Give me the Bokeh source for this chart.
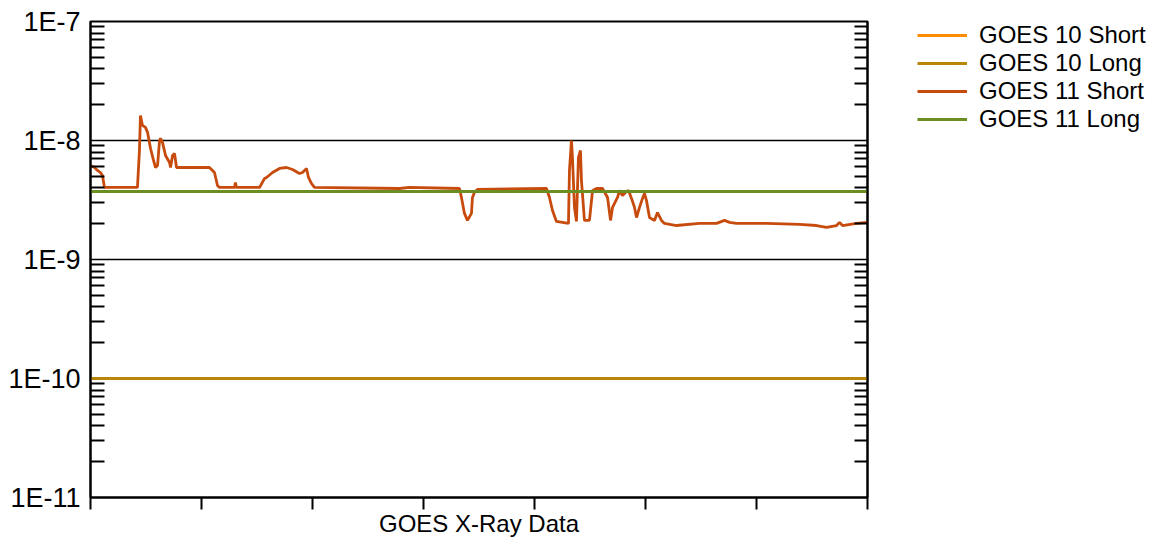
from bokeh.plotting import figure
from bokeh.layouts import row
from bokeh.models import (FixedTicker, LogAxis, Legend, LegendItem,
                          CustomJSTickFormatter, Range1d)
from bokeh.embed import file_html
from bokeh.resources import INLINE

# ---------------- data ----------------
series_names = ["GOES 10 Short", "GOES 10 Long", "GOES 11 Short", "GOES 11 Long"]
series_colors = ["#FF8C00", "#B8860B", "#C84B0E", "#6B8E23"]

g10_time = [0.0, 7.0]
g10_short = [1.0e-10, 1.0e-10]
g10_long = [1.0e-10, 1.0e-10]

g11_long_time = [0.0, 7.0]
g11_long = [3.72e-9, 3.72e-9]

g11_short_time = [
    0.000, 0.036, 0.063, 0.090, 0.108, 0.126, 0.423, 0.441, 0.450, 0.468,
    0.495, 0.514, 0.541, 0.568, 0.586, 0.604, 0.622, 0.631, 0.649, 0.676,
    0.712, 0.721, 0.739, 0.757, 0.775, 0.802, 1.072, 1.117, 1.144, 1.162,
    1.297, 1.306, 1.315, 1.523, 1.568, 1.586, 1.640, 1.703, 1.766, 1.820,
    1.883, 1.910, 1.946, 1.964, 1.991, 2.018, 2.784, 2.874, 3.324, 3.342,
    3.369, 3.396, 3.432, 3.441, 3.459, 3.486, 4.108, 4.135, 4.162, 4.198,
    4.306, 4.315, 4.333, 4.342, 4.360, 4.378, 4.396, 4.414, 4.423, 4.450,
    4.495, 4.523, 4.559, 4.613, 4.658, 4.685, 4.703, 4.748, 4.766, 4.793,
    4.820, 4.847, 4.874, 4.901, 4.919, 4.946, 4.973, 4.991, 5.009, 5.036,
    5.081, 5.108, 5.144, 5.171, 5.279, 5.486, 5.640, 5.712, 5.757, 5.820,
    6.090, 6.387, 6.541, 6.631, 6.721, 6.748, 6.775, 6.901, 7.000]
g11_short = [
    6.16e-9, 5.93e-9, 5.60e-9, 5.38e-9, 5.08e-9, 4.03e-9, 4.03e-9, 8.24e-9, 1.62e-8, 1.34e-8,
    1.29e-8, 1.17e-8, 8.57e-9, 6.79e-9, 5.93e-9, 6.16e-9, 1.00e-8, 1.04e-8, 9.60e-9, 7.48e-9,
    6.53e-9, 5.93e-9, 7.48e-9, 7.78e-9, 5.93e-9, 5.93e-9, 5.93e-9, 5.38e-9, 4.19e-9, 4.03e-9,
    4.03e-9, 4.44e-9, 4.03e-9, 4.03e-9, 4.80e-9, 4.89e-9, 5.38e-9, 5.82e-9, 5.93e-9, 5.71e-9,
    5.28e-9, 5.38e-9, 5.82e-9, 4.89e-9, 4.35e-9, 4.03e-9, 3.95e-9, 4.03e-9, 3.95e-9, 3.32e-9,
    2.44e-9, 2.13e-9, 2.44e-9, 3.32e-9, 3.66e-9, 3.88e-9, 3.95e-9, 3.32e-9, 2.58e-9, 2.09e-9,
    2.01e-9, 5.60e-9, 1.00e-8, 7.20e-9, 2.74e-9, 2.09e-9, 7.20e-9, 8.24e-9, 4.61e-9, 2.13e-9,
    2.13e-9, 3.80e-9, 3.95e-9, 3.95e-9, 3.32e-9, 2.13e-9, 2.74e-9, 3.32e-9, 3.80e-9, 3.45e-9,
    3.66e-9, 3.80e-9, 3.26e-9, 2.74e-9, 2.25e-9, 2.74e-9, 3.26e-9, 3.59e-9, 3.13e-9, 2.25e-9,
    2.13e-9, 2.48e-9, 2.13e-9, 2.01e-9, 1.93e-9, 2.01e-9, 2.01e-9, 2.13e-9, 2.05e-9, 2.01e-9,
    2.01e-9, 1.97e-9, 1.93e-9, 1.86e-9, 1.93e-9, 2.05e-9, 1.93e-9, 2.01e-9, 2.05e-9]

y_decades = [1e-11, 1e-10, 1e-9, 1e-8, 1e-7]
x_ticks = [0, 1, 2, 3, 4, 5, 6, 7]
x_title = "GOES X-Ray Data"

FONT = "Liberation Sans"

# minor ticks 2..9 within each decade
minor = []
for d in y_decades[:-1]:
    for m in range(2, 10):
        minor.append(d * m)

y_ticker = FixedTicker(ticks=y_decades, minor_ticks=minor)

p = figure(frame_width=777, frame_height=476, y_axis_type="log",
           x_range=Range1d(0, 7), y_range=Range1d(1e-11, 1e-7),
           output_backend="svg", toolbar_location=None,
           min_border_left=90, min_border_top=21, min_border_bottom=33,
           min_border_right=20)
p.background_fill_color = "white"
p.border_fill_color = "white"
p.outline_line_color = "black"
p.outline_line_width = 2

# x axis
xa = p.xaxis[0]
xa.ticker = FixedTicker(ticks=x_ticks)
xa.formatter = CustomJSTickFormatter(code="return '';")
xa.major_tick_in = 0
xa.major_tick_out = 12
xa.major_tick_line_width = 2
xa.minor_tick_line_color = None
xa.axis_line_width = 2
xa.axis_label = x_title
xa.axis_label_text_font = FONT
xa.axis_label_text_font_size = "24px"
xa.axis_label_text_font_style = "normal"
xa.axis_label_text_color = "black"
xa.axis_label_standoff = 0
xa.major_label_standoff = 0

# y axis left
ya = p.yaxis[0]
ya.ticker = y_ticker
ya.formatter = CustomJSTickFormatter(code="return '1E' + Math.round(Math.log10(tick));")
ya.major_label_text_font = FONT
ya.major_label_text_font_size = "27px"
ya.major_label_text_color = "black"
ya.major_label_standoff = 10
ya.major_tick_in = 0
ya.major_tick_out = 0
ya.minor_tick_in = 14
ya.minor_tick_out = 0
ya.minor_tick_line_width = 2
ya.minor_tick_line_color = "black"
ya.axis_line_width = 2

# y axis right
ra = LogAxis(ticker=y_ticker,
             formatter=CustomJSTickFormatter(code="return '';"),
             major_tick_in=0, major_tick_out=0,
             minor_tick_in=13, minor_tick_out=0,
             minor_tick_line_width=2, minor_tick_line_color="black",
             axis_line_width=2, major_label_standoff=0)
p.add_layout(ra, "right")

p.xgrid.grid_line_color = None
p.ygrid.ticker = y_ticker
p.ygrid.grid_line_color = "black"
p.ygrid.grid_line_width = 1.5
p.ygrid.minor_grid_line_color = None

r1 = p.line(g10_time, g10_short, line_color=series_colors[0], line_width=3)
r2 = p.line(g10_time, g10_long, line_color=series_colors[1], line_width=3)
r3 = p.line(g11_short_time, g11_short, line_color=series_colors[2], line_width=2.8)
r4 = p.line(g11_long_time, g11_long, line_color=series_colors[3], line_width=3)

# ---- legend panel (separate figure to the right) ----
p2 = figure(width=270, height=522, output_backend="svg", toolbar_location=None,
            x_axis_location=None, y_axis_location=None,
            x_range=Range1d(100, 101), y_range=Range1d(100, 101),
            min_border_left=30, min_border_top=19, min_border_right=0,
            min_border_bottom=0)
p2.outline_line_color = None
p2.grid.grid_line_color = None
p2.background_fill_color = "white"
p2.border_fill_color = "white"

# legend proxies: same series, drawn outside p2's visible range
proxies = [
    p2.line(g10_time, g10_short, line_color=series_colors[0], line_width=3),
    p2.line(g10_time, g10_long, line_color=series_colors[1], line_width=3),
    p2.line(g11_short_time, g11_short, line_color=series_colors[2], line_width=3),
    p2.line(g11_long_time, g11_long, line_color=series_colors[3], line_width=3),
]

legend = Legend(items=[LegendItem(label=n, renderers=[r])
                       for n, r in zip(series_names, proxies)],
                location="top_left", orientation="vertical",
                border_line_color=None, background_fill_alpha=0,
                label_text_font=FONT, label_text_font_size="24px",
                label_text_color="black",
                glyph_width=50, glyph_height=20, label_standoff=12,
                spacing=0, padding=6, margin=0)
p2.add_layout(legend, "center")

layout = row(p, p2)
open("out.html", "w").write(file_html(layout, INLINE))
